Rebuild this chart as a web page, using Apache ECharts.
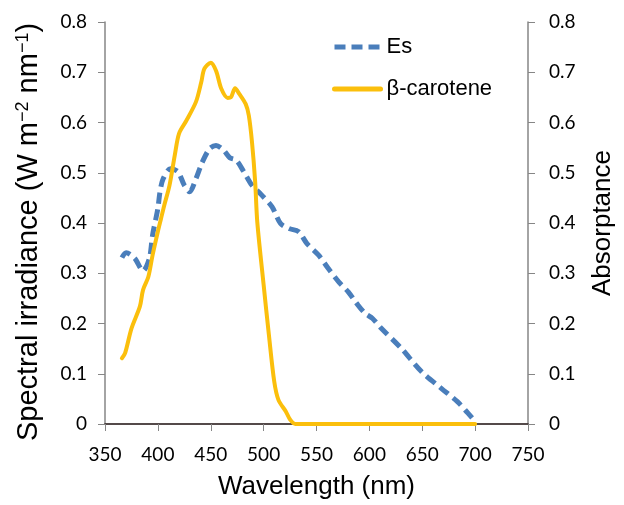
<!DOCTYPE html>
<html>
<head>
<meta charset="utf-8">
<script src="https://cdn.jsdelivr.net/npm/echarts@6/dist/echarts.min.js"></script>
<style>
  html, body { margin: 0; padding: 0; background: #fff; }
  #chart { width: 624px; height: 505px; }
</style>
</head>
<body>
<div id="chart"></div>
<script>
// Downwelling spectral irradiance (Es)
const esWavelength = [366, 370, 378, 386, 392, 395, 400, 402, 405, 412, 419, 425, 430, 436, 442, 449, 455, 462, 468, 474, 481, 489, 498, 508, 516, 524, 533, 541, 552, 561, 571, 580, 588, 596, 603, 611, 630, 649, 668, 683, 693, 700];
const esValues = [0.331, 0.341, 0.330, 0.305, 0.330, 0.376, 0.429, 0.462, 0.488, 0.508, 0.502, 0.475, 0.462, 0.488, 0.521, 0.548, 0.554, 0.545, 0.530, 0.525, 0.503, 0.475, 0.456, 0.432, 0.399, 0.389, 0.383, 0.359, 0.336, 0.310, 0.283, 0.263, 0.240, 0.220, 0.210, 0.191, 0.151, 0.105, 0.071, 0.045, 0.022, 0.005];

// beta-carotene absorptance
const carWavelength = [366, 369, 375, 383, 386, 391, 395, 400, 403, 406, 411, 416, 420, 427, 436, 441, 444, 450, 455, 460, 466, 469, 473, 477, 483, 486, 489, 492, 494, 500, 505, 510, 514, 521, 525, 530, 700];
const carValues = [0.131, 0.141, 0.190, 0.234, 0.267, 0.293, 0.336, 0.383, 0.409, 0.435, 0.475, 0.535, 0.578, 0.604, 0.641, 0.680, 0.707, 0.719, 0.703, 0.667, 0.649, 0.650, 0.668, 0.657, 0.637, 0.614, 0.561, 0.482, 0.402, 0.277, 0.177, 0.085, 0.048, 0.025, 0.009, 0, 0];

const seriesNames = ['Es', 'β-carotene'];

const zip = (xs, ys) => xs.map((x, i) => [x, ys[i]]);

const axisGray = '#868686';
const tickFont = { fontFamily: 'Lato', fontSize: 19, color: '#000' };
const titleFont = { fontFamily: 'Liberation Sans', fontSize: 26, color: '#000' };

const chart = echarts.init(document.getElementById('chart'), null, { renderer: 'canvas' });

const yCommon = {
  type: 'value', min: 0, max: 0.8, interval: 0.1,
  nameLocation: 'middle',
  axisLine: { show: true, lineStyle: { color: axisGray, width: 1.5 } },
  axisTick: { show: true, length: 7, lineStyle: { color: axisGray, width: 1 } },
  splitLine: { show: false }
};
const yLabel = margin => Object.assign({ margin: margin, formatter: v => (v === 0 ? '0' : v.toFixed(1)) }, tickFont);

chart.setOption({
  animation: false,
  backgroundColor: '#fff',
  grid: { left: 105, right: 93, top: 22, bottom: 79, containLabel: false },
  legend: {
    orient: 'vertical',
    left: 327, top: 31,
    itemWidth: 46, itemHeight: 20, itemGap: 20,
    itemStyle: { opacity: 0 },
    lineStyle: { width: 5 },
    textStyle: { fontFamily: 'Liberation Sans', fontSize: 22, color: '#000', padding: [0, 0, 0, 1] },
    data: seriesNames
  },
  xAxis: [{
    type: 'value', min: 350, max: 750, interval: 50,
    name: 'Wavelength (nm)', nameLocation: 'middle', nameGap: 50,
    nameTextStyle: titleFont,
    axisLine: { show: true, onZero: false, lineStyle: { color: axisGray, width: 1.5 } },
    axisTick: { show: true, length: 7, lineStyle: { color: axisGray, width: 1 } },
    axisLabel: Object.assign({ margin: 21 }, tickFont),
    splitLine: { show: false }
  }, {
    // dark frame line along the top of the plot area
    type: 'value', min: 350, max: 750, position: 'top',
    axisLine: { show: true, lineStyle: { color: '#3a2c2c', width: 1.5 } },
    axisTick: { show: false }, axisLabel: { show: false }, splitLine: { show: false }
  }],
  yAxis: [
    Object.assign({}, yCommon, {
      position: 'left',
      name: 'Spectral irradiance (W m{sup|−2} nm{sup|−1})',
      nameGap: 61,
      axisLabel: yLabel(18),
      nameTextStyle: Object.assign({}, titleFont, {
        fontSize: 29,
        padding: [0, 18, 0, 0],
        rich: { sup: { fontFamily: 'Liberation Sans', fontSize: 18, verticalAlign: 'top', padding: [0, 0, 12, 0], color: '#000' } }
      })
    }),
    Object.assign({}, yCommon, {
      position: 'right',
      name: 'Absorptance',
      nameGap: 62,
      axisLabel: yLabel(21),
      nameTextStyle: titleFont
    })
  ],
  series: [{
    name: seriesNames[0],
    type: 'line',
    xAxisIndex: 0, yAxisIndex: 0,
    data: zip(esWavelength, esValues),
    smooth: 0.3,
    symbol: 'none',
    lineStyle: { color: '#4a7ebb', width: 5, type: [11, 6], cap: 'butt' },
    itemStyle: { color: '#4a7ebb' }
  }, {
    name: seriesNames[1],
    type: 'line',
    xAxisIndex: 0, yAxisIndex: 1,
    data: zip(carWavelength, carValues),
    smooth: 0.3,
    symbol: 'none',
    lineStyle: { color: '#fbbf0c', width: 4, cap: 'round' },
    itemStyle: { color: '#fbbf0c' }
  }]
});
</script>
</body>
</html>
